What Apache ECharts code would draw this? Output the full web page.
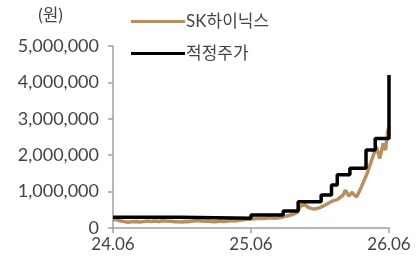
<!DOCTYPE html>
<html>
<head>
<meta charset="utf-8">
<title>SK하이닉스 적정주가</title>
<style>
html, body { margin: 0; padding: 0; background: #fff; }
#chart { width: 416px; height: 266px; }
</style>
</head>
<body>
<div id="chart"></div>
<script src="https://cdn.jsdelivr.net/npm/echarts@6/dist/echarts.min.js"></script>
<script>
// x 값은 24.06 기준 경과 개월 수
var xLabels = ['24.06', '25.06', '26.06'];

// SK하이닉스 주가
var priceMonths = [0, 0.3, 0.6, 1, 1.3, 1.6, 2, 2.3, 2.6, 3, 3.3, 3.6, 4, 4.3, 4.6, 5, 5.3, 5.6, 6, 6.3, 6.6,
  7, 7.3, 7.6, 8, 8.3, 8.6, 9, 9.3, 9.6, 10, 10.3, 10.6, 11, 11.3, 11.6, 12, 12.3, 12.6, 13, 13.3, 13.6,
  14, 14.3, 14.6, 15, 15.3, 15.6, 16, 16.3, 16.7, 17, 17.5, 18, 18.5,
  19, 19.5, 20, 20.2, 20.5, 20.8, 21, 21.2, 21.6, 22.1, 22.5, 22.9, 23.2, 23.5, 23.7, 23.9, 24.05];
var priceValues = [235000, 225000, 200000, 175000, 160000, 170000, 180000, 165000, 175000, 190000, 180000, 195000,
  180000, 200000, 190000, 185000, 175000, 170000, 165000, 180000, 175000,
  195000, 205000, 195000, 185000, 190000, 175000, 175000, 190000, 180000, 195000, 205000, 195000,
  210000, 225000, 235000, 250000, 255000, 265000, 260000, 270000, 280000,
  270000, 275000, 290000, 320000, 345000, 370000, 420000, 600000, 640000, 560000, 520000, 560000, 640000,
  730000, 780000, 900000, 1040000, 880000, 980000, 900000, 860000, 1130000, 1500000, 1870000,
  2230000, 1910000, 2330000, 2140000, 2690000, 2800000];

// 적정주가 (변경 시점, 값)
var targetMonths = [0, 5.8, 12, 14.8, 16.1, 18.1, 19.0, 19.5, 20.6, 22.0, 22.8, 24.0];
var targetValues = [295000, 270000, 360000, 470000, 720000, 905000, 1180000, 1460000, 1640000,
  2140000, 2460000, 4200000];

var yTicks = [0, 1000000, 2000000, 3000000, 4000000, 5000000];

function pairs(xs, ys) {
  return xs.map(function (x, i) { return [x, ys[i]]; });
}

var font = 'Lato, "Noto Sans CJK KR", sans-serif';
var chart = echarts.init(document.getElementById('chart'));
chart.setOption({
  animation: false,
  textStyle: { fontFamily: font },
  grid: { left: 113, right: 27, top: 46, bottom: 38 },
  legend: {
    orient: 'vertical',
    left: 126,
    top: 8,
    itemWidth: 54,
    itemHeight: 14,
    itemGap: 15,
    icon: 'path://M0,6 L52,6 L52,9 L0,9 Z',
    textStyle: { fontSize: 17, color: '#444', fontFamily: font, padding: [0, 0, 0, -4] },
    data: ['SK하이닉스', '적정주가']
  },
  xAxis: {
    type: 'value',
    min: 0,
    max: 24,
    interval: 12,
    splitLine: { show: false },
    axisLine: { show: true, lineStyle: { color: '#a0a0a0', width: 1.5 } },
    axisTick: { show: true, length: 5, lineStyle: { color: '#a0a0a0', width: 1.5 } },
    axisLabel: {
      color: '#444', fontSize: 17, margin: 8,
      formatter: function (v) { return xLabels[v / 12]; }
    }
  },
  yAxis: {
    type: 'value',
    min: yTicks[0],
    max: yTicks[yTicks.length - 1],
    interval: 1000000,
    name: '(원)',
    nameLocation: 'end',
    nameGap: 22,
    nameTextStyle: { color: '#444', fontSize: 17, align: 'center', padding: [0, 0, 0, -125] },
    splitLine: { show: false },
    axisLine: { show: true, lineStyle: { color: '#a0a0a0', width: 1.5 } },
    axisTick: { show: true, length: 5, lineStyle: { color: '#a0a0a0', width: 1.5 } },
    axisLabel: {
      color: '#444', fontSize: 18, margin: 14,
      formatter: function (v) { return v.toLocaleString('en-US'); }
    }
  },
  series: [
    {
      name: 'SK하이닉스',
      type: 'line',
      data: pairs(priceMonths, priceValues),
      showSymbol: false,
      itemStyle: { color: '#b8905f' },
      lineStyle: { color: '#b8905f', width: 3.5 },
      z: 2
    },
    {
      name: '적정주가',
      type: 'line',
      step: 'end',
      data: pairs(targetMonths, targetValues),
      showSymbol: false,
      itemStyle: { color: '#000' },
      lineStyle: { color: '#000', width: 3.5 },
      z: 3
    }
  ]
});
</script>
</body>
</html>
